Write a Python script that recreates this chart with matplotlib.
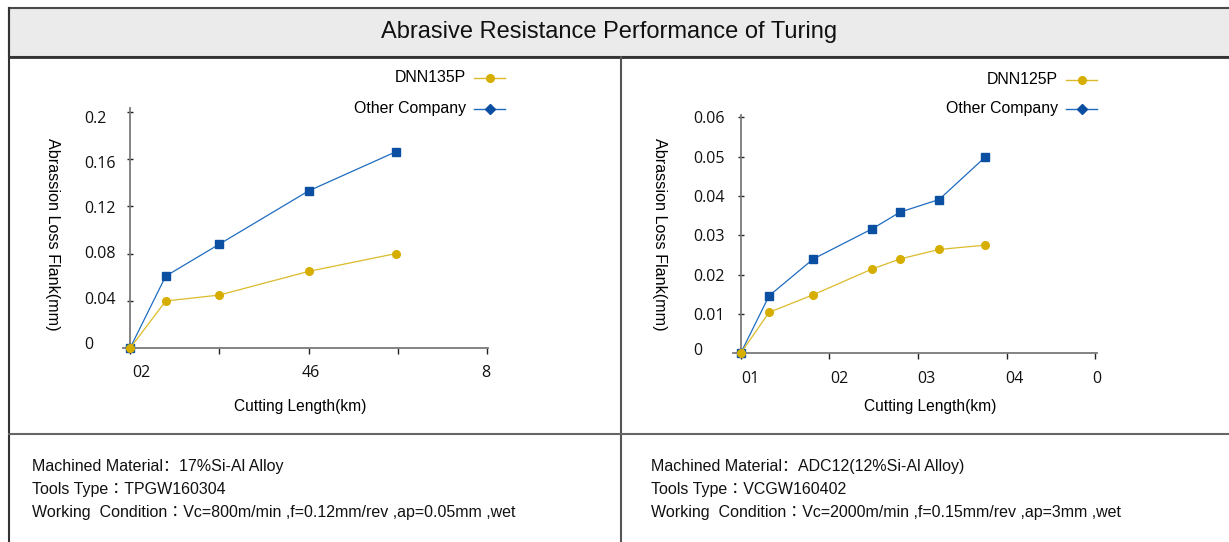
import matplotlib
matplotlib.use("Agg")
import matplotlib.pyplot as plt
from matplotlib.lines import Line2D
from matplotlib.patches import Rectangle
from matplotlib.transforms import Affine2D
import numpy as np

# datos del grafico izquierdo (17%Si-Al)
left_x = [0, 0.8, 2.0, 4.0, 5.95]
left_dnn = [0, 0.040, 0.045, 0.065, 0.080]
left_other = [0, 0.061, 0.088, 0.133, 0.166]
left_yticks = [0, 0.04, 0.08, 0.12, 0.16, 0.2]
left_ylabels = ["0", "0.04", "0.08", "0.12", "0.16", "0.2"]
left_xticks = [0, 2, 4, 6, 8]
left_xlabels = ["02", "46", "8"]

# datos del grafico derecho (ADC12)
right_x = [0, 3.2, 8.2, 14.8, 18.0, 22.4, 27.6]
right_dnn = [0, 0.0104, 0.0149, 0.0214, 0.0240, 0.0264, 0.0275]
right_other = [0, 0.0146, 0.0240, 0.0316, 0.0359, 0.0391, 0.0499]
right_yticks = [0, 0.01, 0.02, 0.03, 0.04, 0.05, 0.06]
right_ylabels = ["0", "0.01", "0.02", "0.03", "0.04", "0.05", "0.06"]
right_xticks = [0, 10, 20, 30, 40]
right_xlabels = ["01", "02", "03", "04", "0"]

title = "Abrasive Resistance Performance of Turing"
left_notes = ["Machined Material\uff1a17%Si-Al Alloy",
              "Tools Type\uff1aTPGW160304",
              "Working  Condition\uff1aVc=800m/min ,f=0.12mm/rev ,ap=0.05mm ,wet"]
right_notes = ["Machined Material\uff1aADC12(12%Si-Al Alloy)",
               "Tools Type\uff1aVCGW160402",
               "Working  Condition\uff1aVc=2000m/min ,f=0.15mm/rev ,ap=3mm ,wet"]

YELLOW = "#d6ae00"
YELLOW_LINE = "#dcbb2a"
BLUE = "#0b4fa3"
BLUE_LINE = "#1f6cc0"
TXT = ["Liberation Sans", "Noto Sans CJK SC"]
TXT_TC = ["Liberation Sans", "Noto Sans CJK TC"]  # dos puntos centrados

W, H = 1229, 542
fig = plt.figure(figsize=(W / 100, H / 100), dpi=100)
# transformacion en pixeles (origen arriba a la izquierda)
px = Affine2D().scale(1 / W, -1 / H).translate(0, 1) + fig.transFigure

# marco tipo tabla
fig.add_artist(Rectangle((9, 8), 1225, 49, transform=px, facecolor="#ebebeb",
                         edgecolor="#4a4a4a", linewidth=1.5))
fig.add_artist(Line2D([9, 1229], [57, 57], transform=px, color="#333333", linewidth=2))
fig.add_artist(Line2D([9, 9], [8, 542], transform=px, color="#333333", linewidth=1.5))
fig.add_artist(Line2D([621, 621], [57, 542], transform=px, color="#555555", linewidth=1.5))
fig.add_artist(Line2D([9, 1229], [434, 434], transform=px, color="#666666", linewidth=1.5))
fig.text(609, 32, title, transform=px, ha="center", va="center", fontsize=17,
         family=TXT, color="#111111")


def make_axes(x0, x1, y0, y1, xlim, ylim):
    # x0/x1/y0/y1: pixeles de los extremos de xlim/ylim
    rect = [x0 / W, 1 - y0 / H, (x1 - x0) / W, (y0 - y1) / H]
    ax = fig.add_axes(rect)
    ax.set_xlim(*xlim)
    ax.set_ylim(*ylim)
    ax.xaxis.remove_overlapping_locs = False
    ax.yaxis.remove_overlapping_locs = False
    return ax


def style(ax, xticks, xlab_pos, xlabels, yticks, ylab_pos, ylabels, ypad, xpad):
    for s in ["top", "right"]:
        ax.spines[s].set_visible(False)
    for s in ["left", "bottom"]:
        ax.spines[s].set_color("#7a7a7a")
        ax.spines[s].set_linewidth(1.3)
    ax.spines["left"].set_position(("data", 0))
    ax.set_xticks(xticks)
    ax.set_yticks(yticks)
    ax.tick_params(which="major", labelbottom=False, labelleft=False, color="#222222")
    ax.tick_params(axis="x", which="major", direction="out", length=4, width=1)
    ax.tick_params(axis="y", which="major", direction="inout", length=5, width=1)
    ax.set_xticks(xlab_pos, xlabels, minor=True)
    ax.set_yticks(ylab_pos, ylabels, minor=True)
    ax.tick_params(which="minor", length=0, labelsize=11.5, labelcolor="#111111")
    ax.tick_params(axis="y", which="minor", pad=ypad)
    ax.tick_params(axis="x", which="minor", pad=xpad)
    for lab in ax.get_yticklabels(minor=True):
        lab.set_ha("left")
        lab.set_family("Open Sans")
    for lab in ax.get_xticklabels(minor=True):
        lab.set_family("Open Sans")


def draw_series(ax, x, dnn, other):
    ax.plot(x, other, color=BLUE_LINE, linewidth=0.9, marker="s", markersize=6,
            markerfacecolor=BLUE, markeredgecolor=BLUE, clip_on=False, zorder=3)
    ax.plot(x, dnn, color=YELLOW_LINE, linewidth=0.9, marker="o", markersize=5.5,
            markerfacecolor=YELLOW, markeredgecolor=YELLOW, clip_on=False, zorder=4)


def legend(xr, y1, y2, name):
    # leyenda manual: texto a la derecha alineado + linea con marcador
    fig.text(xr, y1, name, transform=px, ha="right", va="center", fontsize=11.4, family=TXT)
    fig.text(xr, y2, "Other Company", transform=px, ha="right", va="center", fontsize=11.4, family=TXT)
    fig.add_artist(Line2D([xr + 8, xr + 39], [y1 + 0.5, y1 + 0.5], transform=px,
                          color=YELLOW_LINE, linewidth=1))
    fig.add_artist(Line2D([xr + 23.5], [y1 + 0.5], transform=px, marker="o",
                          markersize=5.5, color=YELLOW))
    fig.add_artist(Line2D([xr + 8, xr + 39], [y2, y2], transform=px,
                          color=BLUE_LINE, linewidth=1))
    fig.add_artist(Line2D([xr + 23.5], [y2], transform=px, marker="D",
                          markersize=5.5, color=BLUE))


# grafico izquierdo
ax1 = make_axes(130 - 0.16 * 44.625, 487 + 0.03 * 44.625, 348.3, 348.3 - 0.203 * 1183,
                (-0.16, 8.03), (0, 0.203))
style(ax1, left_xticks, [0.25, 4.04, 7.98], left_xlabels,
      left_yticks, np.array(left_yticks) * 0.955 + 0.0047, left_ylabels, 33, 12)
draw_series(ax1, left_x, left_dnn, left_other)
fig.text(52, 234, "Abrassion Loss Flank(mm)", transform=px, rotation=270,
         ha="center", va="center", fontsize=11.6, family=TXT)
fig.text(300, 406, "Cutting Length(km)", transform=px, ha="center", va="center",
         fontsize=11.2, family=TXT)
legend(466, 77.5, 108.5, "DNN135P")

# grafico derecho
sx = (1096 - 740.7) / 40
sy = (353.3 - 117.3) / 0.06
ax2 = make_axes(740.7 - 0.9 * sx, 1096 + 0.1 * sx, 353.3, 353.3 - 0.0606 * sy,
                (-0.9, 40.1), (0, 0.0606))
rl = list(right_yticks)
rl[0] = 0.001
style(ax2, right_xticks, [1.1, 11.1, 21.0, 30.9, 40.2], right_xlabels,
      right_yticks, rl, right_ylabels, 34.5, 12.5)
draw_series(ax2, right_x, right_dnn, right_other)
fig.text(659, 234, "Abrassion Loss Flank(mm)", transform=px, rotation=270,
         ha="center", va="center", fontsize=11.6, family=TXT)
fig.text(930, 407, "Cutting Length(km)", transform=px, ha="center", va="center",
         fontsize=11.2, family=TXT)
legend(1058, 79.5, 109, "DNN125P")

# notas inferiores
for i, (a, b) in enumerate(zip(left_notes, right_notes)):
    fam = TXT if i == 0 else TXT_TC
    fig.text(32, 467 + i * 22.5, a, transform=px, ha="left", va="center",
             fontsize=11.5, family=fam, color="#111111")
    fig.text(651, 467 + i * 22.5, b, transform=px, ha="left", va="center",
             fontsize=11.5, family=fam, color="#111111")

fig.savefig("out.png", dpi=100)
